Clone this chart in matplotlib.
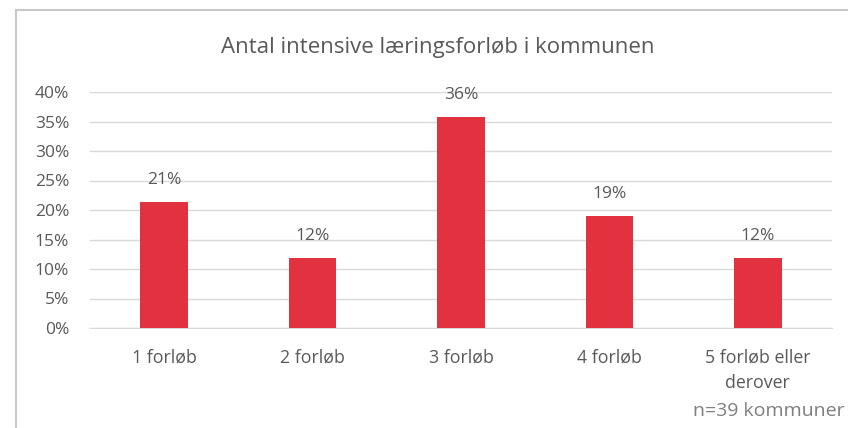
import matplotlib
matplotlib.use("Agg")
import matplotlib.pyplot as plt
from matplotlib.ticker import PercentFormatter

categories = ["1 forløb", "2 forløb", "3 forløb", "4 forløb", "5 forløb eller\nderover"]
values = [21.4, 11.9, 35.7, 19.0, 11.9]
labels = ["21%", "12%", "36%", "19%", "12%"]
title = "Antal intensive læringsforløb i kommunen"
note = "n=39 kommuner"

plt.rcParams['font.family'] = ['Open Sans', 'DejaVu Sans']
txt = '#595959'

fig = plt.figure(figsize=(8.48, 4.28), dpi=100)
W, H = 848, 428
ax = fig.add_axes([90 / W, 1 - 328 / H, (832 - 90) / W, (328 - 92) / H])

x = range(len(categories))
ax.bar(x, values, width=0.32, color='#E3323F', zorder=3)
for i, (v, l) in enumerate(zip(values, labels)):
    ax.annotate(l, (i, v), xytext=(0, 10), textcoords='offset points',
                ha='center', va='bottom', fontsize=12.5, color=txt)

ax.set_xlim(-0.5, len(categories) - 0.5)
ax.set_ylim(0, 40)
ax.set_yticks(range(0, 41, 5))
ax.yaxis.set_major_formatter(PercentFormatter(decimals=0))
ax.grid(axis='y', color='#D9D9D9', linewidth=1, zorder=0)
for s in ['top', 'right', 'left']:
    ax.spines[s].set_visible(False)
ax.spines['bottom'].set_color('#D9D9D9')
ax.tick_params(axis='y', length=0, labelsize=12.5, labelcolor=txt, pad=15)
ax.tick_params(axis='x', length=0, labelsize=12.8, labelcolor=txt, pad=15)
ax.set_xticks(list(x))
ax.set_xticklabels(categories, linespacing=1.5)

fig.text(438 / W, 1 - 47 / H, title, ha='center', va='center', fontsize=16, color=txt)
fig.text(845 / W, 1 - 411 / H, note, ha='right', va='center', fontsize=14, color='#7F7F7F')

fig.add_artist(plt.Line2D([16 / W, 16 / W], [0, 1 - 10 / H], transform=fig.transFigure, color='#C8C8C8', lw=1.5))
fig.add_artist(plt.Line2D([16 / W, 1], [1 - 10 / H, 1 - 10 / H], transform=fig.transFigure, color='#C8C8C8', lw=1.5))

fig.savefig("out.png", dpi=100)
